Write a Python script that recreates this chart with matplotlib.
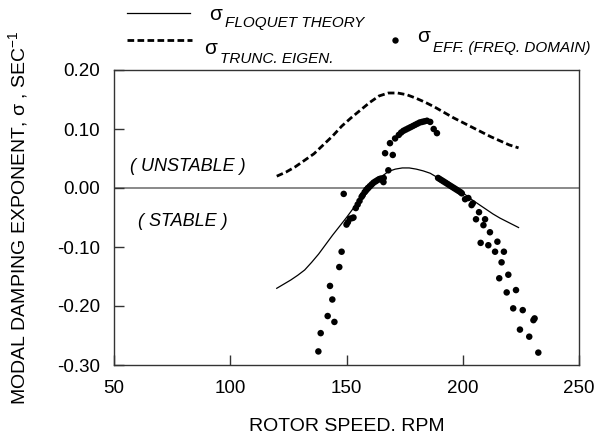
import matplotlib
matplotlib.use("Agg")
import matplotlib.pyplot as plt
from matplotlib.lines import Line2D

plt.rcParams['font.family'] = ['Liberation Sans', 'DejaVu Sans']
plt.rcParams['mathtext.default'] = 'regular'

# Floquet theory curve
floq_x = [120, 123, 126, 129, 132, 135, 138, 141, 144, 147, 150, 153, 156, 159, 162,
          165, 168, 171, 174, 177, 180, 183, 186, 189, 192, 195, 198, 201, 204, 207,
          210, 213, 216, 219, 222, 224]
floq_y = [-0.170, -0.163, -0.156, -0.148, -0.139, -0.126, -0.112, -0.096, -0.080, -0.065,
          -0.050, -0.034, -0.019, -0.008, 0.005, 0.019, 0.028, 0.032, 0.034, 0.034,
          0.032, 0.029, 0.025, 0.018, 0.012, 0.005, -0.002, -0.011, -0.020, -0.028,
          -0.036, -0.044, -0.051, -0.057, -0.063, -0.067]

# Truncated eigen curve
trunc_x = [120, 124, 128, 132, 136, 140, 144, 148, 152, 156, 160, 164, 168, 172, 176,
           180, 184, 188, 192, 196, 200, 204, 208, 212, 216, 220, 224]
trunc_y = [0.020, 0.027, 0.036, 0.047, 0.058, 0.073, 0.088, 0.105, 0.119, 0.132, 0.145,
           0.156, 0.161, 0.161, 0.158, 0.152, 0.145, 0.137, 0.128, 0.119, 0.111, 0.103,
           0.095, 0.087, 0.080, 0.073, 0.068]

# Effective (frequency domain) points
eff_x = [137.9, 138.9, 141.9, 142.9, 143.9, 144.8, 146.9, 147.9, 148.8,
         150.0, 150.6, 151.5, 152.5, 153.0, 154.0, 154.8, 155.6, 156.5, 157.0, 157.8,
         158.5, 159.2, 160.0, 160.8, 161.6, 162.4, 163.2, 164.0, 164.8, 165.5, 165.9,
         166.0, 168.0,
         166.6, 169.9, 168.7, 170.9, 172.5, 173.5, 174.5, 175.5, 176.5, 177.5, 178.5,
         179.5, 180.5, 181.5, 182.5, 183.5, 184.6, 186.0, 187.5, 188.9,
         189.4, 190.2, 191.0, 191.8, 192.6, 193.4, 194.2, 195.0, 195.8, 196.6, 197.4,
         198.2, 199.0, 199.6,
         201.0, 202.4, 203.8, 204.3, 207.0, 205.7, 209.6, 208.9, 211.7, 207.7, 211.0,
         214.9, 213.9, 217.7, 216.7, 219.6, 215.7, 222.9, 218.9, 221.7, 225.8, 230.4,
         230.9, 224.6, 228.6, 232.5]
eff_y = [-0.277, -0.246, -0.217, -0.166, -0.189, -0.227, -0.134, -0.108, -0.010,
         -0.062, -0.058, -0.052, -0.051, -0.050, -0.034, -0.028, -0.022, -0.015, -0.012,
         -0.007, -0.003, 0.000, 0.003, 0.006, 0.009, 0.011, 0.013, 0.015, 0.016, 0.013,
         0.010, 0.017, 0.030,
         0.059, 0.056, 0.076, 0.084, 0.090, 0.094, 0.097, 0.099, 0.101, 0.103, 0.105,
         0.107, 0.109, 0.111, 0.112, 0.113, 0.114, 0.112, 0.100, 0.093,
         0.017, 0.015, 0.013, 0.011, 0.009, 0.007, 0.005, 0.003, 0.001, -0.001, -0.003,
         -0.005, -0.007, -0.009,
         -0.019, -0.017, -0.029, -0.026, -0.041, -0.053, -0.053, -0.063, -0.075, -0.093,
         -0.097, -0.091, -0.108, -0.108, -0.126, -0.147, -0.153, -0.173, -0.177, -0.204,
         -0.207, -0.224, -0.221, -0.240, -0.252, -0.279]

xticks = [50, 100, 150, 200, 250]
yticks = [-0.30, -0.20, -0.10, 0.00, 0.10, 0.20]

W, H = 597, 436
fig = plt.figure(figsize=(W / 100, H / 100), dpi=100)
ax = fig.add_axes([114 / W, (H - 365) / H, 465 / W, 295 / H])

ax.axhline(0, color='#808080', lw=1.3, zorder=1)
ax.plot(floq_x, floq_y, color='black', lw=0.9, zorder=2)
ax.plot(trunc_x, trunc_y, color='black', lw=2.0, dashes=(2.4, 1.2), zorder=2)
ax.scatter(eff_x, eff_y, s=22, color='black', edgecolors='none', zorder=3)

ax.set_xlim(50, 250)
ax.set_ylim(-0.30, 0.20)
ax.set_xticks(xticks)
ax.set_yticks(yticks)
ax.set_yticklabels([f"{v:.2f}" for v in yticks])
ax.tick_params(direction='in', length=7, width=1, color='#333333', labelsize=13.5)
ax.tick_params(axis='x', pad=11)
ax.tick_params(axis='y', pad=10)
for sp in ax.spines.values():
    sp.set_color('#333333')
    sp.set_linewidth(1.0)

ax.text(56.9, 0.036, "( UNSTABLE )", fontsize=13, style='italic', va='center', ha='left')
ax.text(60.3, -0.056, "( STABLE )", fontsize=13, style='italic', va='center', ha='left')

ax.set_xlabel("ROTOR SPEED. RPM", fontsize=14)
ax.xaxis.set_label_coords(0.5, -(426 - 365) / 295, transform=ax.transAxes)
ax.set_ylabel("MODAL DAMPING EXPONENT, σ , SEC$^{-1}$", fontsize=14)
ax.yaxis.set_label_coords((18 - 114) / 465, 0.5)
ax.xaxis.label.set_va('center')
ax.yaxis.label.set_va('center')


def fx(px):
    return px / W


def fy(py):
    return 1 - py / H


# legend
fig.add_artist(Line2D([fx(127), fx(190)], [fy(13), fy(13)], color='black', lw=0.9,
                      transform=fig.transFigure))
fig.add_artist(Line2D([fx(127), fx(192)], [fy(40), fy(40)], color='black', lw=2.0,
                      dashes=(2.4, 1.2), transform=fig.transFigure))
fig.add_artist(Line2D([fx(395)], [fy(40)], marker='o', markersize=4.6, color='black',
                      markeredgewidth=0, linestyle='none', transform=fig.transFigure))

fig.text(fx(209), fy(14), "σ", fontsize=15, va='center', ha='left')
fig.text(fx(225), fy(23), "FLOQUET THEORY", fontsize=11, style='italic', va='center', ha='left')
fig.text(fx(204), fy(49), "σ", fontsize=15, va='center', ha='left')
fig.text(fx(220), fy(59), "TRUNC. EIGEN.", fontsize=11, style='italic', va='center', ha='left')
fig.text(fx(417), fy(37), "σ", fontsize=15, va='center', ha='left')
fig.text(fx(433), fy(48), "EFF. (FREQ. DOMAIN)", fontsize=11, style='italic', va='center', ha='left')

fig.savefig("out.png", dpi=100)
